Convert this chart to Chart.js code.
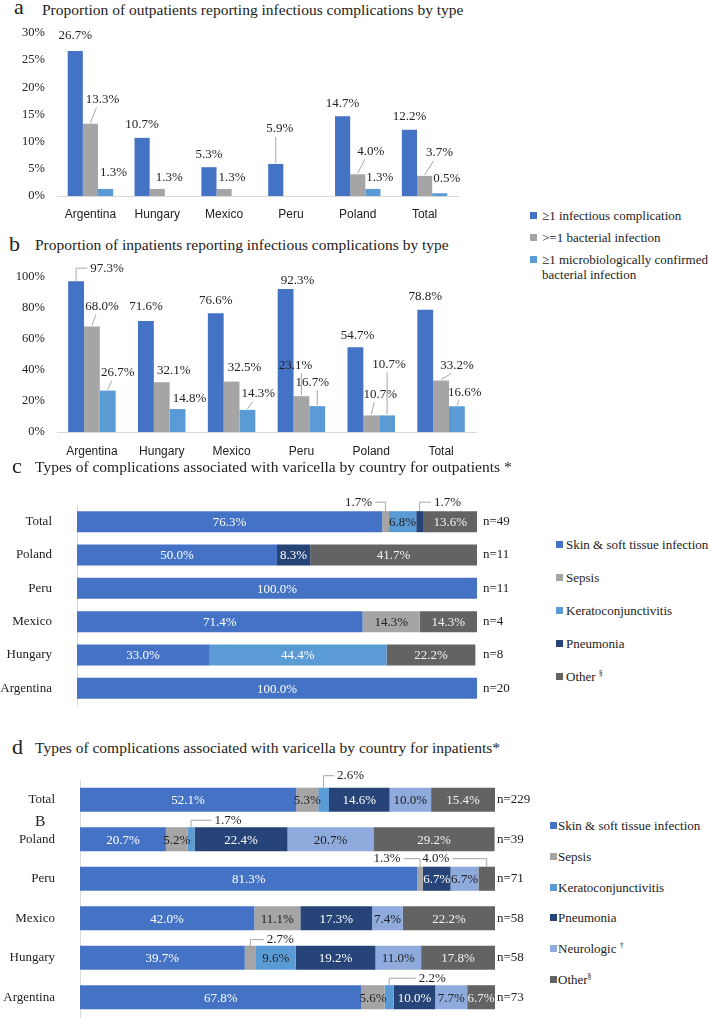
<!DOCTYPE html>
<html>
<head>
<meta charset="utf-8">
<script src="https://cdn.jsdelivr.net/npm/chart.js@4.4.1/dist/chart.umd.min.js"></script>
<style>
  body { margin: 0; background: #fff; font-family: "Liberation Serif", serif; color: #222; }
  #page { position: relative; width: 709px; height: 1018px; overflow: hidden; }
  canvas { position: absolute; }
  .ttl { position: absolute; font-size: 15.5px; line-height: 20px; white-space: nowrap; }
  .let { position: absolute; font-size: 22px; line-height: 20px; }
  .leg { position: absolute; font-family: "Liberation Serif", serif; font-size: 13px; line-height: 15px; }
  .leg div { display: flex; align-items: flex-start; }
  .leg i { flex: none; width: 7px; height: 7px; margin-top: 4px; }
  .leg sup { font-size: 8px; line-height: 0; }
  #legAB div { margin-bottom: 7px; }
  #legAB i { margin-right: 5px; }
  #legAB span { max-width: 172px; }
  #legC div { margin-bottom: 18px; }
  #legC i { margin-right: 3px; }
  #legD div { margin-bottom: 15.8px; }
  #legD i { margin-right: 1px; }
</style>
</head>
<body>
<div id="page">
  <div class="let" style="left:14px;top:-3px">a</div>
  <div class="ttl" style="left:42px;top:0px">Proportion of outpatients reporting infectious complications by type</div>
  <canvas id="chartA" width="470" height="210" style="left:0;top:20px"></canvas>

  <div class="let" style="left:9px;top:234px">b</div>
  <div class="ttl" style="left:35px;top:235px">Proportion of inpatients reporting infectious complications by type</div>
  <canvas id="chartB" width="490" height="205" style="left:0;top:258px"></canvas>
  <div id="legAB" class="leg" style="left:530px;top:208px"></div>

  <div class="let" style="left:12px;top:456px">c</div>
  <div class="ttl" style="left:35px;top:457px">Types of complications associated with varicella by country for outpatients *</div>
  <canvas id="chartC" width="540" height="230" style="left:0;top:485px"></canvas>
  <div id="legC" class="leg" style="left:556px;top:537px"></div>

  <div class="let" style="left:12px;top:737px">d</div>
  <div class="ttl" style="left:35px;top:738px">Types of complications associated with varicella by country for inpatients*</div>
  <canvas id="chartD" width="545" height="258" style="left:0;top:760px"></canvas>
  <div class="ttl" style="left:35px;top:811px">B</div>
  <div id="legD" class="leg" style="left:550px;top:818px"></div>
</div>

<script>
// panels a and b
const countries = ['Argentina', 'Hungary', 'Mexico', 'Peru', 'Poland', 'Total'];
const infSeries = ['≥1 infectious complication', '>=1 bacterial infection', '≥1 microbiologically confirmed bacterial infection'];
const outAny = [26.7, 10.7, 5.3, 5.9, 14.7, 12.2];
const outBact = [13.3, 1.3, 1.3, null, 4.0, 3.7];
const outMicro = [1.3, null, null, null, 1.3, 0.5];
const inAny = [97.3, 71.6, 76.6, 92.3, 54.7, 78.8];
const inBact = [68.0, 32.1, 32.5, 23.1, 10.7, 33.2];
const inMicro = [26.7, 14.8, 14.3, 16.7, 10.7, 16.6];
const ticksA = [0, 5, 10, 15, 20, 25, 30];
const ticksB = [0, 20, 40, 60, 80, 100];

// panels c and d
const rows = ['Total', 'Poland', 'Peru', 'Mexico', 'Hungary', 'Argentina'];
const typesC = ['Skin & soft tissue infection', 'Sepsis', 'Keratoconjunctivitis', 'Pneumonia', 'Other §'];
const nC = ['n=49', 'n=11', 'n=11', 'n=4', 'n=8', 'n=20'];
const cSkin = [76.3, 50.0, 100.0, 71.4, 33.0, 100.0];
const cSepsis = [1.7, null, null, 14.3, null, null];
const cKerato = [6.8, null, null, null, 44.4, null];
const cPneumonia = [1.7, 8.3, null, null, null, null];
const cOther = [13.6, 41.7, null, 14.3, 22.2, null];

const typesD = ['Skin & soft tissue infection', 'Sepsis', 'Keratoconjunctivitis', 'Pneumonia', 'Neurologic †', 'Other§'];
const nD = ['n=229', 'n=39', 'n=71', 'n=58', 'n=58', 'n=73'];
const dSkin = [52.1, 20.7, 81.3, 42.0, 39.7, 67.8];
const dSepsis = [5.3, 5.2, 1.3, 11.1, 2.7, 5.6];
const dKerato = [2.6, 1.7, null, null, 9.6, 2.2];
const dPneumonia = [14.6, 22.4, 6.7, 17.3, 19.2, 10.0];
const dNeuro = [10.0, 20.7, 6.7, 7.4, 11.0, 7.7];
const dOther = [15.4, 29.2, 4.0, 22.2, 17.8, 6.7];

const infColors = ['#4472C4', '#A5A5A5', '#5B9BD5'];
const typeColorsC = ['#4472C4', '#A5A5A5', '#5B9BD5', '#264478', '#636363'];
const typeColorsD = ['#4472C4', '#A5A5A5', '#5B9BD5', '#264478', '#8FAADC', '#636363'];

// label placement: [dx, height above bar top, line type]
const offsA = [
  [[0, 15], [0, 13], [0, 13], [4, 35, 1], [0, 13], [0, 13]],
  [[12, 24, 1], [12, 11], [8, 11], null, [13, 23, 1], [15, 23, 1]],
  [[8, 16], null, null, null, [7, 11], [7, 15]]
];
const offsB = [
  [[31, 13, 2], [0, 14], [0, 13], [12, 8], [2, 12], [0, 13]],
  [[10, 20, 1], [12, 12], [13, 14], [-6, 31, 1], [9, 21, 1], [16, 15, 1]],
  [[10, 18, 1], [12, 10], [11, 16, 1], [-5, 24, 1], [2, 51, 1], [8, 14, 1]]
];
const offsC = [[], [[-27, 9]], [], [[28, 9]], []];
const offsD = [[], [null, null, [-33, 8], null, [30, 6]], [[27, 12], [37, 7], null, null, null, [43, 7]], [], [], [null, null, [-51, 8]]];

Chart.defaults.font.family = '"Liberation Serif", serif';
Chart.defaults.color = '#222';
Chart.defaults.animation = false;

const valueLabels = {
  id: 'valueLabels',
  afterDatasetsDraw(chart, args, opts) {
    const ctx = chart.ctx;
    const horiz = chart.options.indexAxis === 'y';
    ctx.save();
    ctx.font = '13px "Liberation Serif"';
    ctx.textAlign = 'center';
    ctx.textBaseline = 'middle';
    ctx.strokeStyle = '#a6a6a6';
    ctx.lineWidth = 1;
    chart.data.datasets.forEach((ds, di) => {
      chart.getDatasetMeta(di).data.forEach((bar, i) => {
        const v = ds.data[i];
        if (v == null) return;
        const txt = v.toFixed(1) + '%';
        const w = ctx.measureText(txt).width;
        const off = (opts.offsets[di] || [])[i];
        const p = bar.getProps(['x', 'y', 'base', 'height'], true);
        let x0, y0;
        if (horiz) {
          x0 = (p.x + p.base) / 2;
          if (!off) {
            ctx.fillStyle = (opts.over || {})[di + ',' + i] || opts.colors[di];
            ctx.fillText(txt, x0, p.y + 1);
            return;
          }
          y0 = p.y - p.height / 2;
        } else {
          x0 = p.x;
          y0 = p.y;
        }
        const o = off || [0, 13, 0];
        const cx = x0 + o[0], cy = y0 - o[1];
        const line = horiz ? 2 : (o[2] || 0);
        ctx.beginPath();
        if (line === 1) {
          const s = Math.sign(o[0]) * Math.min(6, Math.abs(o[0]));
          ctx.moveTo(x0, y0 - 1);
          ctx.lineTo(cx - s, cy + 8);
        } else if (line === 2) {
          const edge = o[0] > 0 ? cx - w / 2 - 3 : cx + w / 2 + 3;
          ctx.moveTo(x0, y0);
          ctx.lineTo(x0, cy);
          ctx.lineTo(edge, cy);
        }
        ctx.stroke();
        ctx.fillStyle = '#222';
        ctx.fillText(txt, cx, cy);
      });
    });
    ctx.restore();
  }
};

// fixed axis size, no extra room for the end tick labels
function fitTo(w, h) {
  return s => {
    if (w != null) s.width = w;
    if (h != null) s.height = h;
    s.paddingTop = 0;
    s.paddingBottom = 0;
  };
}

function colOptions(ticks, padTop, padRight, xHeight, xPad, offsets) {
  return {
    responsive: false,
    layout: { padding: { top: padTop, right: padRight, left: 0, bottom: 0 } },
    plugins: { legend: { display: false }, tooltip: { enabled: false }, valueLabels: { offsets: offsets } },
    scales: {
      x: {
        grid: { display: false, drawTicks: false },
        border: { color: '#d9d9d9' },
        ticks: { padding: xPad, font: { family: '"Liberation Sans", sans-serif', size: 12 }, color: '#222' },
        afterFit: fitTo(null, xHeight)
      },
      y: {
        min: 0, max: ticks[ticks.length - 1],
        grid: { display: false, drawTicks: false },
        border: { display: false },
        ticks: { padding: 12, font: { size: 12.5 }, callback: v => v + '%' },
        afterBuildTicks: s => { s.ticks = ticks.map(v => ({ value: v })); },
        afterFit: fitTo(57, null)
      }
    }
  };
}

function rowOptions(nLabels, padBottom, yWidth, nWidth, nPad, offsets, colors, over) {
  return {
    indexAxis: 'y',
    responsive: false,
    layout: { padding: { top: 20, bottom: padBottom, left: 0, right: 0 } },
    plugins: { legend: { display: false }, tooltip: { enabled: false }, valueLabels: { offsets: offsets, colors: colors, over: over } },
    scales: {
      x: { display: false, stacked: true, min: 0, max: 100 },
      y: {
        stacked: true,
        grid: { display: false, drawTicks: false },
        border: { color: '#d9d9d9' },
        ticks: { padding: 25, font: { size: 13 } },
        afterFit: fitTo(yWidth, null)
      },
      n: {
        axis: 'y', type: 'category', labels: nLabels, position: 'right', offset: true,
        grid: { display: false, drawTicks: false },
        border: { display: false },
        ticks: { padding: nPad, font: { size: 13 } },
        afterFit: fitTo(nWidth, null)
      }
    }
  };
}

function colSets(series) {
  return infSeries.map((name, k) => ({
    label: name, data: series[k], backgroundColor: infColors[k],
    categoryPercentage: 0.68, barPercentage: 1
  }));
}

function rowSets(names, series, colors, pct) {
  return names.map((name, k) => ({
    label: name, data: series[k], backgroundColor: colors[k],
    xAxisID: 'x', yAxisID: 'y',
    categoryPercentage: pct, barPercentage: 1
  }));
}

new Chart(document.getElementById('chartA'), {
  type: 'bar',
  data: { labels: countries, datasets: colSets([outAny, outBact, outMicro]) },
  options: colOptions(ticksA, 13, 12, 34, 11, offsA),
  plugins: [valueLabels]
});

new Chart(document.getElementById('chartB'), {
  type: 'bar',
  data: { labels: countries, datasets: colSets([inAny, inBact, inMicro]) },
  options: colOptions(ticksB, 19, 14, 31, 12, offsB),
  plugins: [valueLabels]
});

new Chart(document.getElementById('chartC'), {
  type: 'bar',
  data: { labels: rows, datasets: rowSets(typesC, [cSkin, cSepsis, cKerato, cPneumonia, cOther], typeColorsC, 0.63) },
  options: rowOptions(nC, 10, 77, 63, 6, offsC, ['#fff', '#222', '#fff', '#fff', '#f2f2f2'], { '2,0': '#222' }),
  plugins: [valueLabels]
});

new Chart(document.getElementById('chartD'), {
  type: 'bar',
  data: { labels: rows, datasets: rowSets(typesD, [dSkin, dSepsis, dKerato, dPneumonia, dNeuro, dOther], typeColorsD, 0.61) },
  options: rowOptions(nD, 1, 80, 50, 2, offsD, ['#fff', '#222', '#222', '#fff', '#222', '#f2f2f2'], {}),
  plugins: [valueLabels]
});

function legend(id, names, colors) {
  document.getElementById(id).innerHTML = names.map((n, k) =>
    '<div><i style="background:' + colors[k] + '"></i><span>' +
    n.replace(/&/g, '&amp;').replace(/([§†])/, '<sup>$1</sup>') + '</span></div>').join('');
}
legend('legAB', infSeries, infColors);
legend('legC', typesC, typeColorsC);
legend('legD', typesD, typeColorsD);
</script>
</body>
</html>
